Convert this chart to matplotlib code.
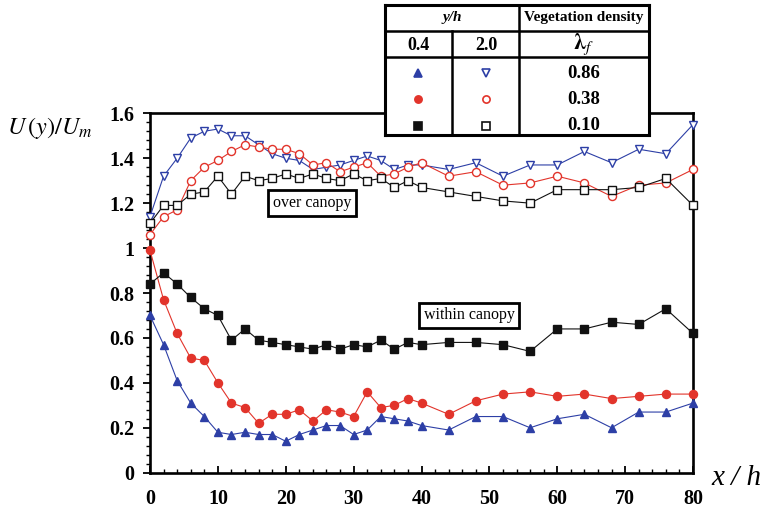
import matplotlib
matplotlib.use("Agg")
import matplotlib.pyplot as plt
from matplotlib.ticker import MultipleLocator, FuncFormatter
from matplotlib.lines import Line2D

plt.rcParams['font.family'] = ['Liberation Serif', 'DejaVu Serif']
plt.rcParams['mathtext.fontset'] = 'stix'

# -------------------------------
# Mesures : vitesse moyenne U(y)/Um le long de x/h
# -------------------------------
x_h = [0, 2, 4, 6, 8, 10, 12, 14, 16, 18, 20, 22, 24, 26, 28, 30, 32, 34, 36, 38, 40,
       44, 48, 52, 56, 60, 64, 68, 72, 76, 80]

# y/h = 0.4 (dans la canopée)
in_086 = [0.70, 0.57, 0.41, 0.31, 0.25, 0.18, 0.17, 0.18, 0.17, 0.17, 0.14, 0.17, 0.19, 0.21, 0.21,
          0.17, 0.19, 0.25, 0.24, 0.23, 0.21, 0.19, 0.25, 0.25, 0.20, 0.24, 0.26, 0.20, 0.27, 0.27, 0.31]
in_038 = [0.99, 0.77, 0.62, 0.51, 0.50, 0.40, 0.31, 0.29, 0.22, 0.26, 0.26, 0.28, 0.23, 0.28, 0.27,
          0.25, 0.36, 0.29, 0.30, 0.33, 0.31, 0.26, 0.32, 0.35, 0.36, 0.34, 0.35, 0.33, 0.34, 0.35, 0.35]
in_010 = [0.84, 0.89, 0.84, 0.78, 0.73, 0.70, 0.59, 0.64, 0.59, 0.58, 0.57, 0.56, 0.55, 0.57, 0.55,
          0.57, 0.56, 0.59, 0.55, 0.58, 0.57, 0.58, 0.58, 0.57, 0.54, 0.64, 0.64, 0.67, 0.66, 0.73, 0.62]

# y/h = 2.0 (au-dessus de la canopée)
over_086 = [1.14, 1.32, 1.40, 1.49, 1.52, 1.53, 1.50, 1.50, 1.46, 1.42, 1.40, 1.39, 1.35, 1.36, 1.37,
            1.39, 1.41, 1.39, 1.35, 1.37, 1.37, 1.35, 1.38, 1.32, 1.37, 1.37, 1.43, 1.38, 1.44, 1.42, 1.55]
over_038 = [1.06, 1.14, 1.17, 1.30, 1.36, 1.39, 1.43, 1.46, 1.45, 1.44, 1.44, 1.42, 1.37, 1.38, 1.34,
            1.36, 1.38, 1.32, 1.33, 1.36, 1.38, 1.32, 1.34, 1.28, 1.29, 1.32, 1.29, 1.23, 1.28, 1.29, 1.35]
over_010 = [1.11, 1.19, 1.19, 1.24, 1.25, 1.32, 1.24, 1.32, 1.30, 1.31, 1.33, 1.31, 1.33, 1.31, 1.30,
            1.33, 1.30, 1.31, 1.27, 1.30, 1.27, 1.25, 1.23, 1.21, 1.20, 1.26, 1.26, 1.26, 1.27, 1.31, 1.19]

densites = ["0.86", "0.38", "0.10"]

BLEU = "#2d3fa6"
ROUGE = "#e2342b"
NOIR = "#111111"

series = [
    (in_086, BLEU, "^", True),
    (in_038, ROUGE, "o", True),
    (in_010, NOIR, "s", True),
    (over_086, BLEU, "v", False),
    (over_038, ROUGE, "o", False),
    (over_010, NOIR, "s", False),
]

fig = plt.figure(figsize=(7.63, 5.09), dpi=100)
ax = fig.add_axes([150 / 763, 36.3 / 509, 543 / 763, 359.4 / 509])

for vals, col, mk, plein in series:
    ax.plot(x_h, vals, color=col, lw=0.8, marker=mk, ms=6.3 if mk != "o" else 5.8,
            mfc=col if plein else "white", mec=col, mew=1.0, clip_on=False, zorder=3)

ax.set_xlim(0, 80)
ax.set_ylim(0, 1.6)
ax.xaxis.set_major_locator(MultipleLocator(10))
ax.xaxis.set_minor_locator(MultipleLocator(2))
ax.yaxis.set_major_locator(MultipleLocator(0.2))
ax.yaxis.set_minor_locator(MultipleLocator(0.04))
ax.yaxis.set_major_formatter(FuncFormatter(lambda v, p: f"{v:g}"))
ax.tick_params(axis="x", which="both", direction="in", top=False, pad=12)
ax.tick_params(axis="y", which="both", direction="out", right=False, pad=6)
ax.tick_params(which="major", length=5, width=1.3, labelsize=14.5)
ax.tick_params(which="minor", length=3, width=1.0)
for lab in ax.get_xticklabels() + ax.get_yticklabels():
    lab.set_fontweight("bold")
for sp in ax.spines.values():
    sp.set_linewidth(1.9)

# étiquettes de zone
boite = dict(boxstyle="square,pad=0.3", fc="white", ec="black", lw=2)
ax.text(23.9, 1.2, "over canopy", ha="center", va="center", fontsize=11.5, bbox=boite, zorder=4)
ax.text(47.0, 0.70, "within canopy", ha="center", va="center", fontsize=11.5, bbox=boite, zorder=4)

# titres des axes
fig.text(50 / 763, 1 - 128 / 509, r"$U\,(y)/U_m$", ha="center", va="center", fontsize=17.5)
fig.text(736 / 763, 1 - 478 / 509, "x / h", ha="center", va="center", fontsize=21, style="italic")

# -------------------------------
# Tableau de légende
# -------------------------------
tab = fig.add_axes([385 / 763, 1 - 135 / 509, 264 / 763, 130 / 509])
tab.set_xlim(0, 264)
tab.set_ylim(130, 0)
tab.set_xticks([])
tab.set_yticks([])
for sp in tab.spines.values():
    sp.set_linewidth(2.2)
tab.patch.set_facecolor("white")

lw_t = 1.8
for y in (26, 52):
    tab.add_line(Line2D([0, 264], [y, y], color="black", lw=lw_t))
tab.add_line(Line2D([134, 134], [0, 130], color="black", lw=lw_t))
tab.add_line(Line2D([67, 67], [26, 130], color="black", lw=lw_t))

tab.text(67, 13, "y/h", ha="center", va="center", fontsize=11, weight="bold", style="italic")
tab.text(199, 13, "Vegetation density", ha="center", va="center", fontsize=11, weight="bold")
tab.text(33, 40, "0.4", ha="center", va="center", fontsize=13, weight="bold")
tab.text(101, 40, "2.0", ha="center", va="center", fontsize=13, weight="bold")
tab.text(199, 39, r"$\mathbf{\lambda}_{f}$", ha="center", va="center", fontsize=16)

rangs = [68, 94, 121]
for (vals, col, mk, plein), i in zip(series, [0, 1, 2, 0, 1, 2]):
    cx = 33 if plein else 101
    tab.plot([cx], [rangs[i]], marker=mk, ms=5.5 if mk != "o" else 5.2, color=col,
             mfc=col if plein else "white", mec=col, mew=1.2, ls="none")
for d, y in zip(densites, rangs):
    tab.text(199, y, d, ha="center", va="center", fontsize=13.5, weight="bold")

fig.savefig("out.png", dpi=100)
